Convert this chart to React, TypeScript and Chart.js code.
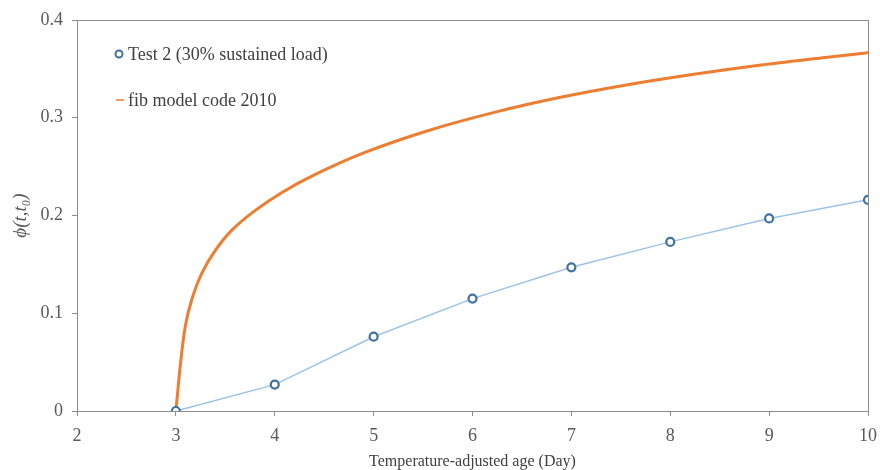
import React, { useEffect, useRef } from "react";
import { Chart, registerables } from "chart.js";

Chart.register(...registerables);

const testAge = [3, 4, 5, 6, 7, 8, 9, 10];
const testPhi = [0, 0.027, 0.076, 0.115, 0.147, 0.173, 0.197, 0.216];

const fibAge = [3, 3.02, 3.043, 3.094, 3.161, 3.263, 3.397, 3.566, 3.8, 4.073, 4.41, 4.9, 5.54, 6.22, 6.89, 7.57, 8.24, 8.92, 9.59, 10];
const fibPhi = [0, 0.021, 0.045, 0.086, 0.114, 0.141, 0.164, 0.185, 0.205, 0.2236, 0.2421, 0.2641, 0.2865, 0.3055, 0.3209, 0.3338, 0.3445, 0.354, 0.362, 0.3665];

const testLabel = "Test 2 (30% sustained load)";
const fibLabel = "fib model code 2010";
const xTitle = "Temperature-adjusted age (Day)";
const yTitle = "\u03D5(t,t\u2080)";

const FONT = "'Liberation Serif', 'DejaVu Serif', serif";
const BLUE_LINE = "#9DC3E6";
const BLUE_MARK = "#41719C";
const ORANGE = "#ED7D31";
const AXIS = "#8C8C8C";

export default function App() {
  const ref = useRef<HTMLCanvasElement | null>(null);
  useEffect(() => {
    if (!ref.current) return;
    const boxPlugin = {
      id: "boxAndLegend",
      afterDraw(chart: any) {
        const { ctx, chartArea } = chart;
        ctx.save();
        ctx.strokeStyle = AXIS;
        ctx.lineWidth = 1;
        ctx.strokeRect(chartArea.left + 0.5, chartArea.top + 0.5, chartArea.right - chartArea.left, chartArea.bottom - chartArea.top);
        // legend
        const lx = chartArea.left + 42;
        const ly1 = chartArea.top + 34;
        const ly2 = chartArea.top + 80;
        ctx.font = "18px " + FONT;
        ctx.textBaseline = "middle";
        ctx.beginPath();
        ctx.arc(lx, ly1, 3.5, 0, Math.PI * 2);
        ctx.fillStyle = "#fff";
        ctx.fill();
        ctx.strokeStyle = BLUE_MARK;
        ctx.lineWidth = 2;
        ctx.stroke();
        ctx.fillStyle = "#404040";
        ctx.fillText(chart.data.datasets[0].label, lx + 9, ly1 + 1);
        ctx.beginPath();
        ctx.moveTo(lx - 3, ly2);
        ctx.lineTo(lx + 5, ly2);
        ctx.strokeStyle = ORANGE;
        ctx.lineWidth = 1.5;
        ctx.stroke();
        ctx.fillText(chart.data.datasets[1].label, lx + 9, ly2 + 1);
        ctx.restore();
      },
    };
    const chart = new Chart(ref.current, {
      type: "scatter",
      data: {
        datasets: [
          {
            label: testLabel,
            data: testAge.map((x, i) => ({ x, y: testPhi[i] })),
            showLine: true,
            borderColor: BLUE_LINE,
            borderWidth: 1.5,
            pointRadius: 4,
            pointBorderWidth: 2.2,
            pointBackgroundColor: "#ffffff",
            pointBorderColor: BLUE_MARK,
            order: 0,
          },
          {
            label: fibLabel,
            data: fibAge.map((x, i) => ({ x, y: fibPhi[i] })),
            showLine: true,
            borderColor: ORANGE,
            borderWidth: 3,
            pointRadius: 0,
            tension: 0.35,
            order: 1,
          },
        ],
      },
      options: {
        animation: false,
        responsive: false,
        layout: { padding: { top: 20, right: 12, left: 0, bottom: 0 } },
        plugins: { legend: { display: false }, tooltip: { enabled: false } },
        scales: {
          x: {
            type: "linear",
            min: 2,
            max: 10,
            ticks: { stepSize: 1, color: "#595959", font: { family: FONT, size: 18 }, padding: 9 },
            grid: { drawOnChartArea: false, drawTicks: true, tickLength: 5, color: AXIS },
            border: { color: AXIS },
            title: { display: true, text: xTitle, color: "#404040", font: { family: FONT, size: 16 }, padding: { top: 0, bottom: -1 } },
            afterFit: (s: any) => { s.height = 59; s.paddingRight = 0; s.paddingLeft = 0; },
          },
          y: {
            min: 0,
            max: 0.4,
            ticks: {
              stepSize: 0.1,
              color: "#595959",
              font: { family: FONT, size: 18 },
              padding: 9,
              callback: (v: any) => String(Math.round(Number(v) * 10) / 10),
            },
            grid: { drawOnChartArea: false, drawTicks: true, tickLength: 5, color: AXIS },
            border: { color: AXIS },
            title: { display: true, text: yTitle, color: "#595959", font: { family: FONT, size: 19, style: "italic" }, padding: { bottom: 4, top: 10 } },
            afterFit: (s: any) => { s.width = 77; s.paddingTop = 0; s.paddingBottom = 0; },
          },
        },
      },
      plugins: [boxPlugin],
    });
    return () => chart.destroy();
  }, []);
  return (
    <div style={{ position: "fixed", left: 0, top: 0, width: 880, height: 470, background: "#fff" }}>
      <canvas ref={ref} width={880} height={470} />
    </div>
  );
}
